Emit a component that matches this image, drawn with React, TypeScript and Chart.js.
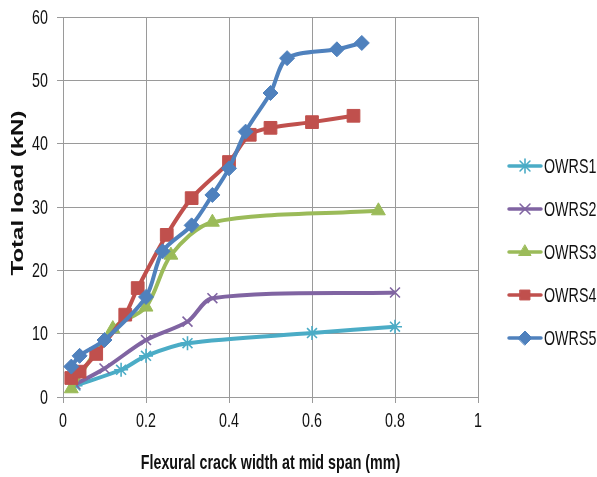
import React, { useEffect, useRef } from 'react';
import { Chart, registerables } from 'chart.js';
import { drawPoint } from 'chart.js/helpers';

Chart.register(...registerables);

const seriesNames = ['OWRS1', 'OWRS2', 'OWRS3', 'OWRS4', 'OWRS5'];
const seriesColors = ['#4BACC6', '#8064A2', '#9BBB59', '#C0504D', '#4F81BD'];
const seriesMarkers = ['star', 'crossRot', 'triangle', 'rect', 'rectRot'];
const seriesMarkerSizes = [7, 7, 8, 9, 7.5];

const owrs1X = [0.03, 0.14, 0.2, 0.3, 0.6, 0.8];
const owrs1Y = [1.8, 4.3, 6.5, 8.5, 10.1, 11.1];

const owrs2X = [0.03, 0.1, 0.2, 0.3, 0.36, 0.8];
const owrs2Y = [2.0, 4.5, 9.0, 11.9, 15.6, 16.5];

const owrs3X = [0.02, 0.12, 0.2, 0.26, 0.36, 0.76];
const owrs3Y = [1.3, 10.8, 14.2, 22.4, 27.6, 29.4];

const owrs4X = [0.02, 0.04, 0.08, 0.15, 0.18, 0.25, 0.31, 0.4, 0.45, 0.5, 0.6, 0.7];
const owrs4Y = [3.0, 4.0, 6.8, 13.0, 17.2, 25.6, 31.4, 37.1, 41.4, 42.5, 43.4, 44.4];

const owrs5X = [0.02, 0.04, 0.1, 0.2, 0.24, 0.31, 0.36, 0.4, 0.44, 0.5, 0.54, 0.66, 0.72];
const owrs5Y = [4.8, 6.5, 9.0, 15.8, 23.0, 27.1, 31.9, 36.1, 41.9, 48.0, 53.5, 54.9, 55.9];

const seriesX = [owrs1X, owrs2X, owrs3X, owrs4X, owrs5X];
const seriesY = [owrs1Y, owrs2Y, owrs3Y, owrs4Y, owrs5Y];

const xTitle = 'Flexural crack width at mid span (mm)';
const yTitle = 'Total load (kN)';

const FONT = "'Liberation Sans', Arial, sans-serif";
const GRID = '#9a9a9a';
const TEXT = '#111';
const SQUEEZE = 0.68;

function squeezedText(ctx: CanvasRenderingContext2D, text: string, x: number, y: number, font: string, align: CanvasTextAlign, rotate = false) {
  ctx.save();
  ctx.translate(x, y);
  if (rotate) {
    ctx.rotate(-Math.PI / 2);
    ctx.scale(1, SQUEEZE);
  } else {
    ctx.scale(SQUEEZE, 1);
  }
  ctx.font = font;
  ctx.fillStyle = TEXT;
  ctx.textAlign = align;
  ctx.textBaseline = 'middle';
  ctx.fillText(text, 0, 0);
  ctx.restore();
}

const fmt = (v: number) => String(Number(Number(v).toFixed(2)));

const textPlugin = {
  id: 'squeezedText',
  afterDraw(chart: any) {
    const ctx: CanvasRenderingContext2D = chart.ctx;
    const xs = chart.scales.x;
    const ys = chart.scales.y;
    const area = chart.chartArea;
    ys.ticks.forEach((t: any) => {
      squeezedText(ctx, fmt(t.value), area.left - 15, ys.getPixelForValue(t.value) + 1, `21px ${FONT}`, 'right');
    });
    xs.ticks.forEach((t: any) => {
      squeezedText(ctx, fmt(t.value), xs.getPixelForValue(t.value), area.bottom + 24, `21px ${FONT}`, 'center');
    });
    squeezedText(ctx, xTitle, (area.left + area.right) / 2, area.bottom + 66, `bold 21px ${FONT}`, 'center');
    squeezedText(ctx, yTitle, 18, 193, `bold 24px ${FONT}`, 'center', true);

    chart.data.datasets.forEach((ds: any, i: number) => {
      const y = 166 + i * 43;
      ctx.save();
      ctx.strokeStyle = ds.borderColor;
      ctx.lineWidth = 3.5;
      ctx.lineCap = 'round';
      ctx.beginPath();
      ctx.moveTo(509, y);
      ctx.lineTo(541, y);
      ctx.stroke();
      ctx.strokeStyle = ds.borderColor;
      ctx.fillStyle = ds.backgroundColor;
      ctx.lineWidth = ds.pointBorderWidth;
      drawPoint(ctx, { pointStyle: ds.pointStyle, radius: Math.min(ds.pointRadius, 7), borderWidth: ds.pointBorderWidth, rotation: 0 } as any, 525, y);
      ctx.restore();
      squeezedText(ctx, ds.label, 544, y + 1, `21px ${FONT}`, 'left');
    });
  },
};

export default function App() {
  const ref = useRef<HTMLCanvasElement | null>(null);

  useEffect(() => {
    if (!ref.current) return;
    const datasets = seriesNames.map((name, i) => ({
      label: name,
      data: seriesX[i].map((x, j) => ({ x, y: seriesY[i][j] })),
      borderColor: seriesColors[i],
      backgroundColor: seriesColors[i],
      pointBackgroundColor: seriesColors[i],
      pointBorderColor: seriesColors[i],
      pointStyle: seriesMarkers[i],
      pointRadius: seriesMarkerSizes[i],
      pointBorderWidth: i < 2 ? 1.6 : 1,
      borderWidth: 4,
      showLine: true,
      tension: 0.3,
      order: 4 - i,
      clip: false as any,
    }));

    const chart = new Chart(ref.current, {
      type: 'scatter',
      data: { datasets },
      options: {
        animation: false,
        responsive: false,
        maintainAspectRatio: false,
        layout: { padding: { top: 17, right: 119, left: 0, bottom: 0 } },
        plugins: {
          legend: { display: false },
          tooltip: { enabled: false },
        },
        scales: {
          x: {
            type: 'linear',
            min: 0,
            max: 1,
            afterFit: (s: any) => { s.height = 80; },
            ticks: { stepSize: 0.2, display: false, callback: (v: any) => fmt(v) },
            grid: { color: GRID, lineWidth: 1, tickLength: 6, tickColor: GRID },
            border: { color: GRID, width: 1 },
          },
          y: {
            type: 'linear',
            min: 0,
            max: 60,
            afterFit: (s: any) => { s.width = 63; },
            ticks: { stepSize: 10, display: false, callback: (v: any) => fmt(v) },
            grid: { color: GRID, lineWidth: 1, tickLength: 6, tickColor: GRID },
            border: { color: GRID, width: 1 },
          },
        },
      },
      plugins: [textPlugin],
    });
    return () => chart.destroy();
  }, []);

  return (
    <div style={{ position: 'fixed', left: 0, top: 0, width: 597, height: 477, background: '#fff' }}>
      <canvas ref={ref} width={597} height={477} style={{ width: 597, height: 477, display: 'block' }} />
    </div>
  );
}
